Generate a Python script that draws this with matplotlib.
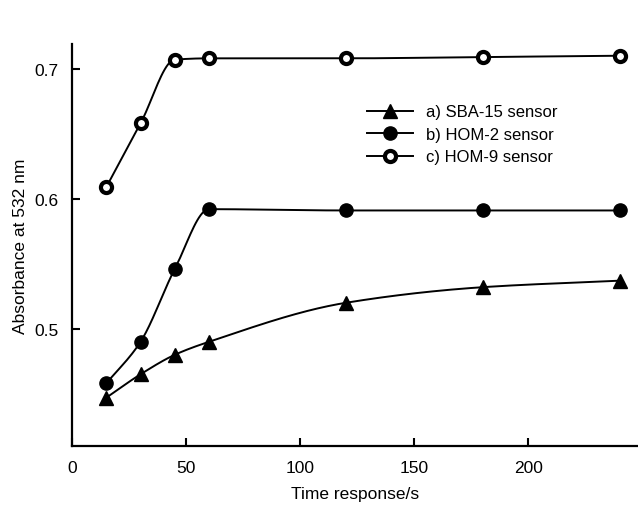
import numpy as np
import matplotlib
matplotlib.use("Agg")
import matplotlib.pyplot as plt

plt.rcParams['font.family'] = ['Liberation Sans', 'DejaVu Sans']

# Veriler
time_s = [15, 30, 45, 60, 120, 180, 240]
sba15 = [0.447, 0.465, 0.480, 0.490, 0.520, 0.532, 0.537]
hom2 = [0.458, 0.490, 0.546, 0.592, 0.591, 0.591, 0.591]
hom9 = [0.609, 0.658, 0.707, 0.708, 0.708, 0.709, 0.710]
labels = ["a) SBA-15 sensor", "b) HOM-2 sensor", "c) HOM-9 sensor"]


def smooth(x, y, n=300):
    # monoton kubik (PCHIP) egri, sadece cizgiyi yumusatmak icin
    x = np.asarray(x, float)
    y = np.asarray(y, float)
    h = np.diff(x)
    d = np.diff(y) / h
    m = np.zeros_like(y)
    for i in range(1, len(x) - 1):
        if d[i - 1] * d[i] > 0:
            w1 = 2 * h[i] + h[i - 1]
            w2 = h[i] + 2 * h[i - 1]
            m[i] = (w1 + w2) / (w1 / d[i - 1] + w2 / d[i])
    m[0] = d[0]
    m[-1] = d[-1]
    xs = np.linspace(x[0], x[-1], n)
    ys = np.empty_like(xs)
    for j, xv in enumerate(xs):
        i = min(np.searchsorted(x, xv, side='right') - 1, len(x) - 2)
        t = (xv - x[i]) / h[i]
        h00 = 2 * t ** 3 - 3 * t ** 2 + 1
        h10 = t ** 3 - 2 * t ** 2 + t
        h01 = -2 * t ** 3 + 3 * t ** 2
        h11 = t ** 3 - t ** 2
        ys[j] = h00 * y[i] + h10 * h[i] * m[i] + h01 * y[i + 1] + h11 * h[i] * m[i + 1]
    return xs, ys


fig = plt.figure(figsize=(6.38, 5.06), dpi=100)
ax = fig.add_axes([0.113, 0.117, 0.887, 0.794])

styles = [
    dict(marker='^', markersize=9.5, markerfacecolor='black', markeredgecolor='black'),
    dict(marker='o', markersize=9.5, markerfacecolor='black', markeredgecolor='black'),
    dict(marker='o', markersize=8, markerfacecolor='white', markeredgecolor='black',
         markeredgewidth=3),
]

for ys, lab, st in zip([sba15, hom2, hom9], labels, styles):
    sx, sy = smooth(time_s, ys)
    ax.plot(sx, sy, color='black', lw=1.4)
    ax.plot(time_s, ys, ls='none', **st)
    ax.plot([], [], color='black', lw=1.4, label=lab, **st)

ax.set_xlim(0, 248)
ax.set_ylim(0.41, 0.719)
ax.set_xticks([0, 50, 100, 150, 200])
ax.set_yticks([0.5, 0.6, 0.7])
ax.set_yticklabels(["0.5", "0.6", "0.7"])
ax.tick_params(direction='in', length=6, width=1.5, labelsize=12.5, pad=10)
ax.spines['top'].set_visible(False)
ax.spines['right'].set_visible(False)
ax.spines['left'].set_linewidth(1.6)
ax.spines['bottom'].set_linewidth(1.6)

ax.set_xlabel("Time response/s", fontsize=12.5, labelpad=8)
ax.set_ylabel("Absorbance at 532 nm", fontsize=12.5, labelpad=4)

ax.legend(loc='upper left', bbox_to_anchor=(0.495, 0.887), frameon=False, fontsize=12,
          handlelength=2.75, labelspacing=0.45, handletextpad=0.8)

fig.savefig("out.png", dpi=100)
